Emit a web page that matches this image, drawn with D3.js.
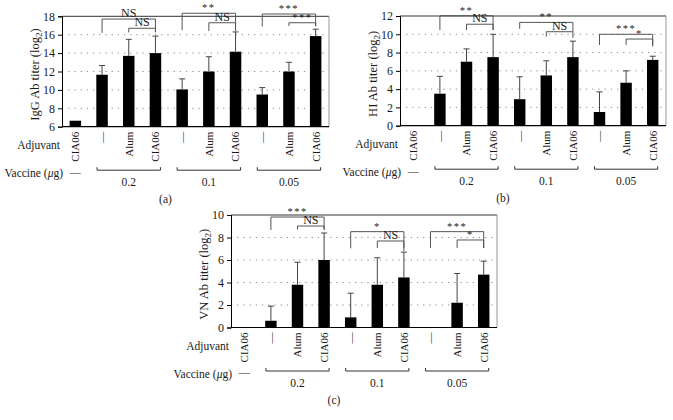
<!DOCTYPE html>
<html>
<head>
<meta charset="utf-8">
<script src="https://cdn.jsdelivr.net/npm/d3@7"></script>
<style>
  html, body { margin: 0; padding: 0; background: #fff; }
  svg { display: block; }
  text { font-family: "Liberation Serif", "Times New Roman", serif; fill: #1a1a1a; }
</style>
</head>
<body>
<svg id="chart" width="673" height="420"></svg>
<script>
// ---------------- DATA ----------------
const adjuvants = ["CIA06", "\u2014", "Alum", "CIA06", "\u2014", "Alum", "CIA06", "\u2014", "Alum", "CIA06"];
const vaccineGroups = ["0.2", "0.1", "0.05"];
const vaccineGroupBars = [[1, 3], [4, 6], [7, 9]];

const iggMean = [6.65, 11.65, 13.7, 14.0, 10.05, 12.0, 14.15, 9.5, 12.0, 15.85];
const iggErr  = [0, 1.0, 1.8, 1.85, 1.15, 1.6, 2.15, 0.75, 1.0, 0.75];
const hiMean  = [0, 3.5, 7.0, 7.5, 2.9, 5.5, 7.5, 1.5, 4.7, 7.2];
const hiErr   = [0, 1.9, 1.4, 2.5, 2.45, 1.6, 1.75, 2.2, 1.3, 0.4];
const vnMean  = [0, 0.6, 3.8, 6.0, 0.9, 3.8, 4.45, 0, 2.2, 4.7];
const vnErr   = [0, 1.3, 2.0, 2.4, 2.15, 2.4, 2.25, 0, 2.6, 1.2];

const iggTicks = [6, 8, 10, 12, 14, 16, 18];
const hiTicks  = [0, 2, 4, 6, 8, 10, 12];
const vnTicks  = [0, 2, 4, 6, 8, 10];

// significance brackets (bar indices, heights in data units)
const iggSig = [
  {a: 1, b: 3, top: 17.7, legA: 16.2, legB: 16.3, label: "NS"},
  {a: 2, b: 3, top: 16.7, legA: 16.25, legB: 16.25, label: "NS"},
  {a: 4, b: 6, top: 18.33, legA: 16.5, legB: 16.5, label: "**"},
  {a: 5, b: 6, top: 17.3, legA: 16.4, legB: 16.4, label: "NS"},
  {a: 7, b: 9, top: 18.25, legA: 16.9, legB: 16.9, label: "***"},
  {a: 8, b: 9, top: 17.3, legA: 16.95, legB: 16.95, label: "***"}
];
const hiSig = [
  {a: 1, b: 3, top: 12.03, legA: 10.47, legB: 10.47, label: "**"},
  {a: 2, b: 3, top: 11.1, legA: 10.47, legB: 10.47, label: "NS"},
  {a: 4, b: 6, top: 11.3, legA: 10.6, legB: 10.3, label: "**"},
  {a: 5, b: 6, top: 10.28, legA: 9.74, legB: 9.6, label: "NS"},
  {a: 7, b: 9, top: 10.0, legA: 8.83, legB: 8.83, label: "***"},
  {a: 8, b: 9, top: 9.48, legA: 8.83, legB: 8.64, label: "*"}
];
const vnSig = [
  {a: 1, b: 3, top: 9.82, legA: 8.67, legB: 8.67, label: "***"},
  {a: 2, b: 3, top: 9.02, legA: 8.73, legB: 8.73, label: "NS"},
  {a: 4, b: 6, top: 8.52, legA: 7.04, legB: 7.04, label: "*"},
  {a: 5, b: 6, top: 7.69, legA: 7.07, legB: 6.8, label: "NS"},
  {a: 7, b: 9, top: 8.52, legA: 7.07, legB: 7.07, label: "***"},
  {a: 8, b: 9, top: 7.78, legA: 7.07, legB: 7.07, label: "*"}
];

// ---------------- DRAW ----------------
const svg = d3.select("#chart");

function drawPanel(cfg) {
  const {x0, x1, yTop, yBot, domain, ticks, mean, err, sig, title, tag} = cfg;
  const g = svg.append("g");
  const x = d3.scaleBand().domain(d3.range(adjuvants.length)).range([x0, x1])
    .paddingInner(0.57).paddingOuter(0.285);
  const y = d3.scaleLinear().domain(domain).range([yBot, yTop]);
  const cx = i => x(i) + x.bandwidth() / 2;

  // grid lines
  g.selectAll(".grid").data(ticks.slice(1, -1)).join("line")
    .attr("x1", x0).attr("x2", x1)
    .attr("y1", d => y(d)).attr("y2", d => y(d))
    .attr("stroke", "#8a8a8a").attr("stroke-width", 1)
    .attr("stroke-dasharray", "1.2,5");

  // frame: top and right
  g.append("line").attr("x1", x0).attr("x2", x1).attr("y1", yTop).attr("y2", yTop)
    .attr("stroke", "#333").attr("stroke-width", 1);
  g.append("line").attr("x1", x1).attr("x2", x1).attr("y1", yTop).attr("y2", yBot)
    .attr("stroke", "#999").attr("stroke-width", 1);

  // bars
  g.selectAll(".bar").data(mean).join("rect")
    .attr("x", (d, i) => x(i)).attr("width", x.bandwidth())
    .attr("y", d => y(Math.max(d, domain[0]))).attr("height", d => yBot - y(Math.max(d, domain[0])))
    .attr("fill", "#000");

  // error bars
  const eb = mean.map((m, i) => ({m, e: err[i], i})).filter(d => d.e > 0);
  g.selectAll(".err").data(eb).join("line")
    .attr("x1", d => cx(d.i)).attr("x2", d => cx(d.i))
    .attr("y1", d => y(d.m)).attr("y2", d => y(d.m + d.e))
    .attr("stroke", "#444").attr("stroke-width", 1);
  g.selectAll(".cap").data(eb).join("line")
    .attr("x1", d => cx(d.i) - 3).attr("x2", d => cx(d.i) + 3)
    .attr("y1", d => y(d.m + d.e)).attr("y2", d => y(d.m + d.e))
    .attr("stroke", "#444").attr("stroke-width", 1);

  // y axis
  const ax = g.append("g").attr("transform", `translate(${x0},0)`)
    .call(d3.axisLeft(y).tickValues(ticks).tickSize(4).tickPadding(3).tickFormat(d3.format("d")));
  ax.select(".domain").attr("stroke", "#000");
  ax.selectAll(".tick line").attr("stroke", "#000");
  ax.selectAll(".tick text").style("font-size", "12px")
    .style("font-family", '"Liberation Serif", serif').attr("fill", "#1a1a1a");

  // x axis baseline
  g.append("line").attr("x1", x0).attr("x2", x1).attr("y1", yBot).attr("y2", yBot)
    .attr("stroke", "#000").attr("stroke-width", 1.2);

  // y title
  const tt = g.append("text")
    .attr("transform", `translate(${x0 - 27},${(yTop + yBot) / 2 + 3}) rotate(-90)`)
    .attr("text-anchor", "middle").attr("dy", "0.35em").style("font-size", "12.5px");
  tt.append("tspan").text(title + " (log");
  tt.append("tspan").text("2").attr("dy", "3").style("font-size", "9px");
  tt.append("tspan").text(")").attr("dy", "-3");

  // significance brackets
  const sg = g.append("g");
  sig.forEach(s => {
    const xa = cx(s.a), xb = cx(s.b), yt = y(s.top);
    sg.append("path")
      .attr("d", `M${xa},${y(s.legA)}V${yt}H${xb}V${y(s.legB)}`)
      .attr("fill", "none").attr("stroke", "#555").attr("stroke-width", 1);
    sg.append("text").attr("x", (xa + xb) / 2).attr("y", yt - 2)
      .attr("text-anchor", "middle").style("font-size", s.label === "NS" ? "12px" : "10.5px")
      .attr("letter-spacing", s.label === "NS" ? 0 : "1.5px")
      .text(s.label);
  });

  // adjuvant labels (rotated)
  g.selectAll(".adj").data(adjuvants).join("text")
    .attr("transform", (d, i) => `translate(${cx(i)},${yBot + 5}) rotate(-90)`)
    .attr("text-anchor", "end").attr("dy", "0.35em")
    .style("font-size", "11px")
    .text(d => d);
  g.append("text").attr("x", x0 - 2).attr("y", yBot + 18).attr("dy", "0.35em")
    .attr("text-anchor", "end").style("font-size", "11.5px").text("Adjuvant");

  // vaccine row
  const vt = g.append("text").attr("x", x0 + 1).attr("y", yBot + 46.5).attr("dy", "0.35em")
    .attr("text-anchor", "end").style("font-size", "11.5px");
  vt.append("tspan").text("Vaccine (");
  vt.append("tspan").text("\u03bc").style("font-style", "italic");
  vt.append("tspan").text("g)");
  g.append("text").attr("x", cx(0)).attr("y", yBot + 45).attr("dy", "0.35em")
    .attr("text-anchor", "middle").style("font-size", "11px").text("\u2014");

  vaccineGroups.forEach((lab, k) => {
    const [a, b] = vaccineGroupBars[k];
    const xa = cx(a) - 5, xb = cx(b) + 5, yy = yBot + 43.5;
    g.append("path").attr("d", `M${xa},${yy - 3}V${yy}H${xb}V${yy - 3}`)
      .attr("fill", "none").attr("stroke", "#333").attr("stroke-width", 1);
    g.append("text").attr("x", (cx(a) + cx(b)) / 2).attr("y", yBot + 55).attr("dy", "0.35em")
      .attr("text-anchor", "middle").style("font-size", "11.5px").text(lab);
  });

  // panel tag
  g.append("text").attr("x", (x0 + x1) / 2 - 30).attr("y", yBot + 72.5).attr("dy", "0.35em")
    .attr("text-anchor", "middle").style("font-size", "11.5px").text(tag);
}

drawPanel({x0: 62, x1: 329, yTop: 16.3, yBot: 126.7, domain: [6, 18], ticks: iggTicks,
  mean: iggMean, err: iggErr, sig: iggSig, title: "IgG Ab titer", tag: "(a)"});
drawPanel({x0: 400, x1: 666, yTop: 16, yBot: 125.7, domain: [0, 12], ticks: hiTicks,
  mean: hiMean, err: hiErr, sig: hiSig, title: "HI Ab titer", tag: "(b)"});
drawPanel({x0: 231, x1: 497, yTop: 215, yBot: 327.5, domain: [0, 10], ticks: vnTicks,
  mean: vnMean, err: vnErr, sig: vnSig, title: "VN Ab titer", tag: "(c)"});
</script>
</body>
</html>
